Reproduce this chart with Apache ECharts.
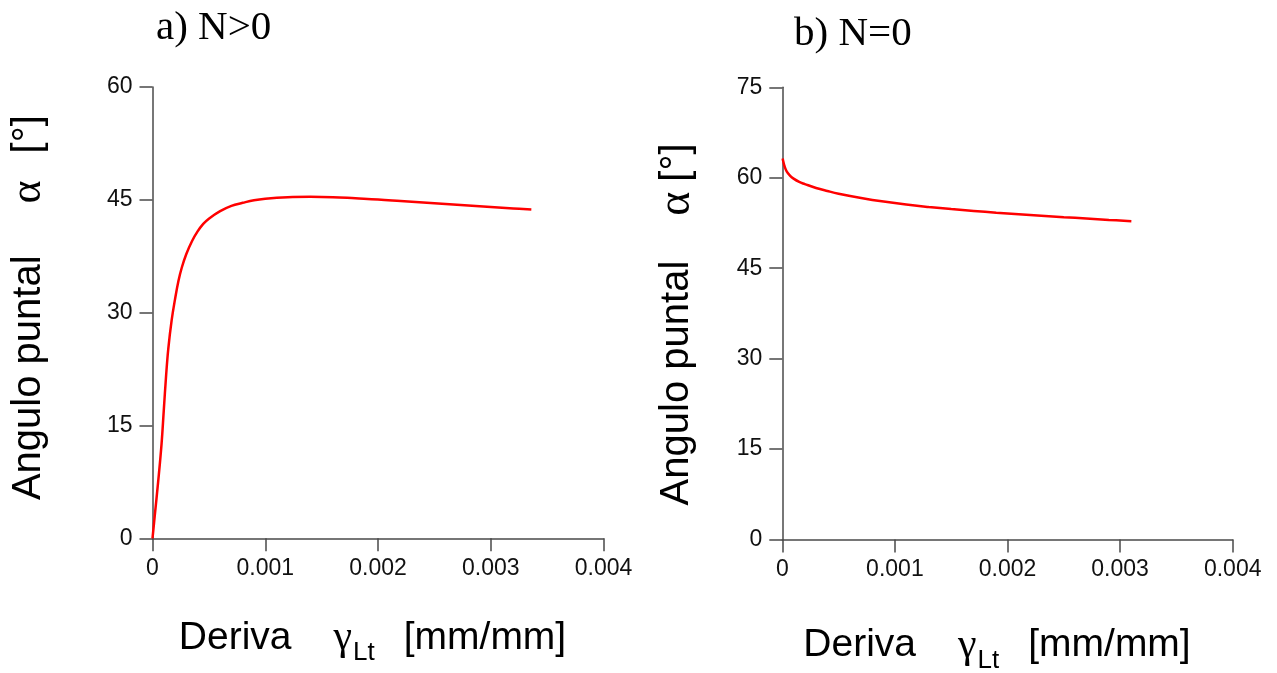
<!DOCTYPE html>
<html>
<head>
<meta charset="utf-8">
<script src="https://cdn.jsdelivr.net/npm/echarts@6/dist/echarts.min.js"></script>
<style>
html,body{margin:0;padding:0;background:#fff;}
#chart{width:1277px;height:673px;}
</style>
</head>
<body>
<div id="chart"></div>
<script>
// ---- data ----
const panelTitles = ['a) N>0', 'b) N=0'];
const xTicks = [0, 0.001, 0.002, 0.003, 0.004];
const leftYTicks = [0, 15, 30, 45, 60];
const rightYTicks = [0, 15, 30, 45, 60, 75];

// a) N>0
const leftX = [0, 0.00002, 0.00005, 0.00008, 0.0001, 0.00012, 0.00014, 0.00017, 0.0002, 0.00023, 0.00026, 0.0003, 0.00035, 0.0004, 0.00045, 0.0005, 0.0006, 0.0007, 0.0008, 0.0009, 0.001, 0.0012, 0.0014, 0.0016, 0.0018, 0.002, 0.0022, 0.0024, 0.0026, 0.0028, 0.003, 0.0032, 0.00336];
const leftY = [0, 3, 7.5, 12.5, 17, 21.5, 25.2, 29, 31.8, 34.2, 36, 37.8, 39.5, 40.8, 41.8, 42.5, 43.5, 44.2, 44.6, 44.95, 45.15, 45.35, 45.4, 45.35, 45.2, 45.05, 44.85, 44.65, 44.45, 44.25, 44.05, 43.85, 43.7];

// b) N=0
const rightX = [0.000003, 0.00001, 0.00002, 0.00004, 0.00007, 0.0001, 0.00015, 0.0002, 0.0003, 0.0004, 0.0005, 0.0007, 0.0009, 0.0011, 0.0013, 0.0015, 0.0017, 0.0019, 0.0021, 0.0023, 0.0025, 0.0027, 0.0029, 0.0031];
const rightY = [63.2, 62.6, 61.9, 61.0, 60.3, 59.85, 59.3, 58.95, 58.3, 57.8, 57.35, 56.65, 56.05, 55.55, 55.15, 54.8, 54.5, 54.2, 53.95, 53.7, 53.45, 53.25, 53.0, 52.8];

// ---- build ----
const pairs = (xs, ys) => xs.map((x, i) => [x, ys[i]]);
const SANS = "'Liberation Sans', Arial, sans-serif";
const SERIF = "'Liberation Serif', 'Times New Roman', serif";
const axisColor = '#4a4a4a';

function xAxisDef(gridIndex, rich, nameStr, gap) {
  return {
    type: 'value', gridIndex: gridIndex,
    min: xTicks[0], max: xTicks[xTicks.length - 1], interval: xTicks[1] - xTicks[0],
    axisLine: {show: true, onZero: false, lineStyle: {color: axisColor, width: 1.5}},
    axisTick: {show: true, length: 13, lineStyle: {color: axisColor, width: 1.5}},
    splitLine: {show: false},
    axisLabel: {color: '#111', fontFamily: SANS, fontSize: 23, margin: 19,
      formatter: v => String(+v.toFixed(6))},
    name: nameStr, nameLocation: 'middle', nameGap: gap,
    nameTextStyle: {rich: rich}
  };
}
function yAxisDef(gridIndex, ticks, rich, nameStr, gap) {
  return {
    type: 'value', gridIndex: gridIndex,
    min: ticks[0], max: ticks[ticks.length - 1], interval: ticks[1] - ticks[0],
    axisLine: {show: true, onZero: false, lineStyle: {color: axisColor, width: 1.5}},
    axisTick: {show: true, length: 13, lineStyle: {color: axisColor, width: 1.5}},
    splitLine: {show: false},
    axisLabel: {color: '#111', fontFamily: SANS, fontSize: 23, margin: 20},
    name: nameStr, nameLocation: 'middle', nameRotate: 90, nameGap: gap,
    nameTextStyle: {rich: rich}
  };
}

function xRich(rightPad) {
  return {
    a: {fontFamily: SANS, fontSize: 39, color: '#000'},
    g: {fontFamily: SERIF, fontSize: 42, color: '#000', padding: [0, 0, 0, 42]},
    sub: {fontFamily: SANS, fontSize: 26, color: '#000', padding: [30, 0, 0, 1]},
    b: {fontFamily: SANS, fontSize: 39, color: '#000', padding: [0, rightPad, 0, 29]}
  };
}
const yRichL = {
  a: {fontFamily: SANS, fontSize: 40, color: '#000', padding: [0, 0, 0, 10]},
  g: {fontFamily: SERIF, fontSize: 44, color: '#000', padding: [0, 27, 0, 52]},
  b: {fontFamily: SANS, fontSize: 40, color: '#000'}
};
const yRichR = {
  a: {fontFamily: SANS, fontSize: 40, color: '#000'},
  g: {fontFamily: SERIF, fontSize: 46, color: '#000', padding: [0, 10, 0, 45]},
  b: {fontFamily: SANS, fontSize: 40, color: '#000', padding: [0, 22, 0, 0]}
};

const chart = echarts.init(document.getElementById('chart'), null, {renderer: 'canvas'});
chart.setOption({
  animation: false,
  backgroundColor: '#fff',
  title: [
    {text: panelTitles[0], left: 151, top: 3, textStyle: {fontFamily: SERIF, fontSize: 41, fontWeight: 'normal', color: '#000'}},
    {text: panelTitles[1], left: 789, top: 9, textStyle: {fontFamily: SERIF, fontSize: 41, fontWeight: 'normal', color: '#000'}}
  ],
  grid: [
    {left: 152.5, top: 87, width: 451, height: 451.3, containLabel: false, outerBoundsMode: 'none'},
    {left: 782.3, top: 87.3, width: 450.4, height: 452.2, containLabel: false, outerBoundsMode: 'none'}
  ],
  xAxis: [
    xAxisDef(0, xRich(11), '{a|Deriva}{g|γ}{sub|Lt}{b|[mm/mm]}', 72),
    xAxisDef(1, xRich(21), '{a|Deriva}{g|γ}{sub|Lt}{b|[mm/mm]}', 78)
  ],
  yAxis: [
    yAxisDef(0, leftYTicks, yRichL, '{a|Angulo puntal}{g|α}{b|[°]}', 102),
    yAxisDef(1, rightYTicks, yRichR, '{a|Angulo puntal}{g|α}{b|[°]}', 82)
  ],
  series: [
    {type: 'line', xAxisIndex: 0, yAxisIndex: 0, data: pairs(leftX, leftY), showSymbol: false,
      smooth: 0.4, lineStyle: {color: '#ff0000', width: 2.5}},
    {type: 'line', xAxisIndex: 1, yAxisIndex: 1, data: pairs(rightX, rightY), showSymbol: false,
      smooth: 0.4, lineStyle: {color: '#ff0000', width: 2.5}}
  ]
});
</script>
</body>
</html>
